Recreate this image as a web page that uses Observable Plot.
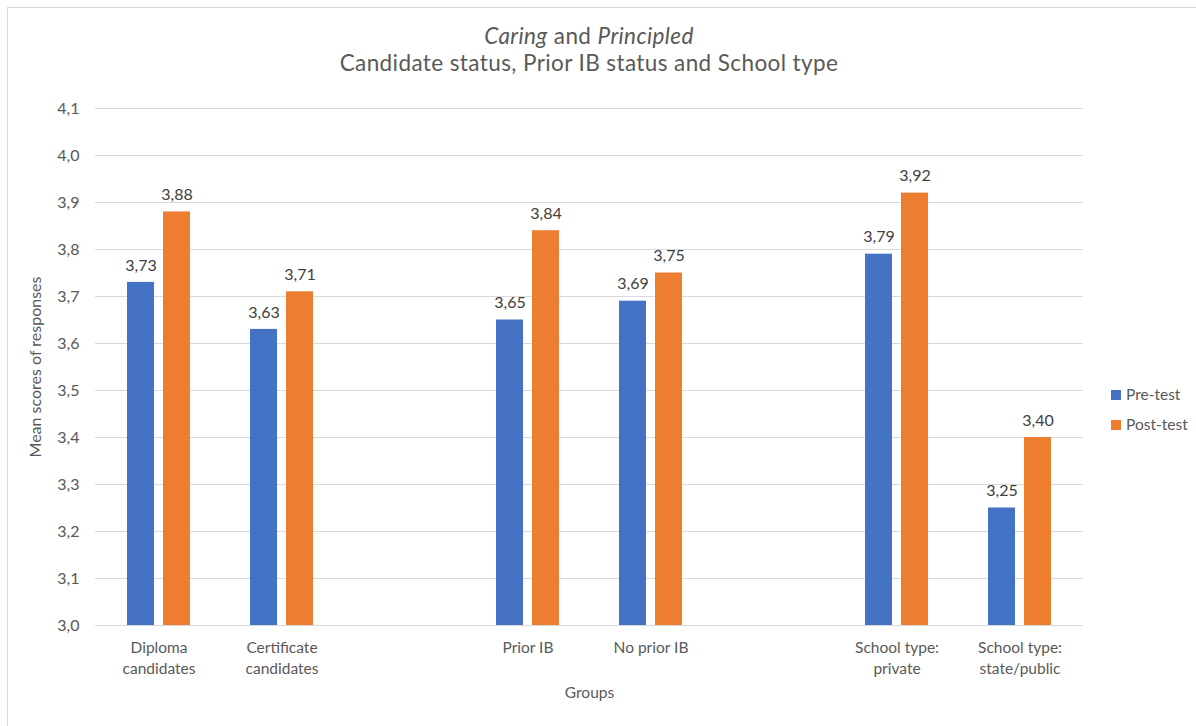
<!DOCTYPE html>
<html>
<head>
<meta charset="utf-8">
<script src="https://cdn.jsdelivr.net/npm/d3@7"></script>
<script src="https://cdn.jsdelivr.net/npm/@observablehq/plot@0.6"></script>
<style>
  body { margin: 0; background: #fff; font-family: Lato, "Open Sans", sans-serif; }
  #wrap { position: relative; width: 1196px; height: 726px; overflow: hidden; background: #fff; }
  #frame { position: absolute; left: 7px; top: 7px; width: 1200px; height: 730px; border-top: 1px solid #d9d9d9; border-left: 1px solid #d9d9d9; }
  .title { position: absolute; left: 95px; width: 988px; text-align: center; color: #595959; font-size: 22.5px; letter-spacing: 0.4px; line-height: 27px; height: 27px; }
  #chart { position: absolute; left: 0; top: 90px; }
  .leg { position: absolute; left: 1111px; font-size: 15.5px; color: #595959; line-height: 18px; white-space: nowrap; }
  .leg span.sw { display: inline-block; width: 10px; height: 10px; margin-right: 5px; vertical-align: 0px; }
</style>
</head>
<body>
<div id="wrap">
  <div id="frame"></div>
  <div class="title" style="top:22px"><i>Caring</i> and <i>Principled</i></div>
  <div class="title" style="top:49px">Candidate status, Prior IB status and School type</div>
  <div id="chart"></div>
  <div class="leg" id="leg0"></div>
  <div class="leg" id="leg1"></div>
</div>
<script>
// ---- data ----
const categories = ["Diploma\ncandidates", "Certificate\ncandidates", "Prior IB", "No prior IB", "School type:\nprivate", "School type:\nstate/public"];
const slots = ["Diploma\ncandidates", "Certificate\ncandidates", "gap1", "Prior IB", "No prior IB", "gap2", "School type:\nprivate", "School type:\nstate/public"];
const seriesNames = ["Pre-test", "Post-test"];
const preTest = [3.73, 3.63, 3.65, 3.69, 3.79, 3.25];
const postTest = [3.88, 3.71, 3.84, 3.75, 3.92, 3.40];
const yTicks = [3.0, 3.1, 3.2, 3.3, 3.4, 3.5, 3.6, 3.7, 3.8, 3.9, 4.0, 4.1];
const colors = ["#4472C4", "#ED7D31"];

const yMin = yTicks[0], yMax = yTicks[yTicks.length - 1];
const pre = categories.map((c, i) => ({cat: c, v: preTest[i]}));
const post = categories.map((c, i) => ({cat: c, v: postTest[i]}));
const fmt2 = v => d3.format(".2f")(v).replace(".", ",");
const fmt1 = v => d3.format(".1f")(v).replace(".", ",");
const labelColor = "#404040";

const chart = Plot.plot({
  width: 1196,
  height: 636,
  marginTop: 18,
  marginBottom: 101,
  marginLeft: 95,
  marginRight: 113,
  style: {fontFamily: "Lato, 'Open Sans', sans-serif", fontSize: "16px", color: "#595959", background: "transparent"},
  x: {domain: slots, padding: 0, axis: null},
  y: {domain: [yMin, yMax], axis: null},
  marks: [
    Plot.gridY(yTicks, {stroke: "#d9d9d9", strokeOpacity: 1, strokeWidth: 1}),
    Plot.axisY(yTicks, {tickSize: 0, tickPadding: 16, tickFormat: fmt1, fontSize: 16, fill: "#595959", label: null}),
    Plot.barY(pre, {x: "cat", y1: () => yMin, y2: "v", fill: colors[0], insetLeft: 30, insetRight: 66}),
    Plot.barY(post, {x: "cat", y1: () => yMin, y2: "v", fill: colors[1], insetLeft: 66, insetRight: 30}),
    Plot.text(pre, {x: "cat", y: "v", text: d => fmt2(d.v), dx: -18, dy: -17, fill: labelColor, fontSize: 16}),
    Plot.text(post, {x: "cat", y: "v", text: d => fmt2(d.v), dx: 18, dy: -17, fill: labelColor, fontSize: 16}),
    Plot.text(categories, {x: d => d, text: d => d, frameAnchor: "bottom", lineAnchor: "top", dy: 13, lineHeight: 1.35, fill: "#595959", fontSize: 15.5}),
    Plot.text(["Groups"], {frameAnchor: "bottom", dy: 72, fill: "#595959", fontSize: 15.5}),
    Plot.text(["Mean scores of responses"], {frameAnchor: "left", textAnchor: "middle", dx: -60, rotate: -90, fill: "#595959", fontSize: 16})
  ]
});
document.getElementById("chart").appendChild(chart);

// legend
const legTops = [385, 415];
seriesNames.forEach((name, i) => {
  const el = document.getElementById("leg" + i);
  el.style.top = legTops[i] + "px";
  const sw = document.createElement("span");
  sw.className = "sw";
  sw.style.background = colors[i];
  el.appendChild(sw);
  el.appendChild(document.createTextNode(name));
});
</script>
</body>
</html>
